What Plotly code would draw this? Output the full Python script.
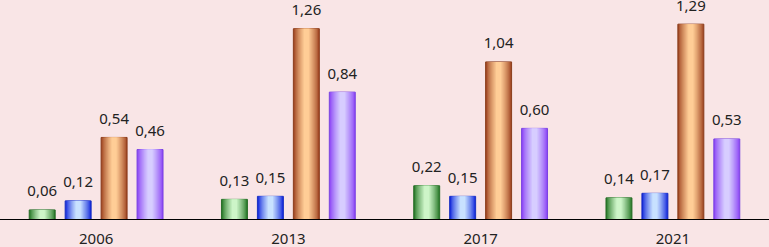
import plotly.graph_objects as go

years = ["2006", "2013", "2017", "2021"]
series_names = ["S1", "S2", "S3", "S4"]
s1 = [0.06, 0.13, 0.22, 0.14]
s2 = [0.12, 0.15, 0.15, 0.17]
s3 = [0.54, 1.26, 1.04, 1.29]
s4 = [0.46, 0.84, 0.60, 0.53]
values = [s1, s2, s3, s4]

# (edge colour, centre colour) for the cylinder-like gradient
palette = [
    ((40, 120, 40), (205, 245, 200)),
    ((20, 40, 220), (200, 225, 255)),
    ((160, 70, 35), (255, 205, 150)),
    ((140, 70, 245), (215, 205, 255)),
]
edge_line = ["#2a6e2a", "#1a2fc0", "#8a3d1c", "#7a45e0"]

BAR_W = 0.135
N_LAYERS = 10


def mix(a, b, t):
    return "rgb(%d,%d,%d)" % tuple(round(a[i] + (b[i] - a[i]) * t) for i in range(3))


fig = go.Figure()
for k, (name, vals) in enumerate(zip(series_names, values)):
    dark, light = palette[k]
    for li in range(N_LAYERS):
        t = li / (N_LAYERS - 1)
        f = 1.0 - 0.8 * t
        fig.add_trace(go.Bar(
            x=years, y=vals, name=name, offsetgroup=name,
            width=BAR_W * f,
            marker=dict(color=mix(dark, light, t ** 0.8),
                        line=dict(width=1 if li == 0 else 0, color=edge_line[k])),
            showlegend=False, hoverinfo="skip",
        ))
    fig.add_trace(go.Scatter(
        x=years, y=vals, offsetgroup=name, mode="markers+text",
        texttemplate="%{y:.2f}",
        textposition="top center",
        marker=dict(size=14, color="rgba(0,0,0,0)"),
        textfont=dict(family="Noto Sans", size=15, color="#222"),
        showlegend=False, cliponaxis=False, hoverinfo="skip",
    ))

fig.update_layout(
    width=769, height=247,
    margin=dict(l=0, r=0, t=0, b=28),
    paper_bgcolor="#f9e5e6", plot_bgcolor="#f9e5e6",
    barmode="group", bargap=0.252, bargroupgap=0.0,
    scattermode="group", scattergap=0.252,
    separators=",.",
    showlegend=False,
    font=dict(family="Noto Sans", size=15, color="#222"),
)
fig.update_xaxes(showline=True, linecolor="black", linewidth=1, ticks="",
                 ticklabelstandoff=6, showgrid=False, automargin=False,
                 tickfont=dict(family="Noto Sans", size=15, color="#222"))
fig.update_yaxes(range=[0, 1.45], visible=False, showgrid=False, zeroline=False,
                 automargin=False)

fig.write_html("out.html", config={"displayModeBar": False},
               post_script="document.body.style.margin='0';")
